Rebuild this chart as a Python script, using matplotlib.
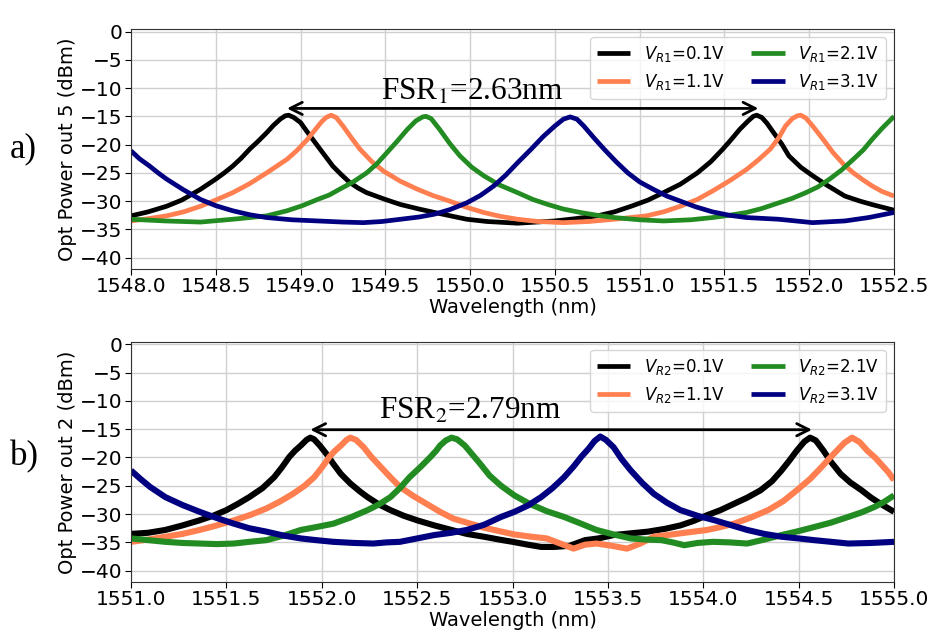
import matplotlib
matplotlib.use("Agg")
import matplotlib.pyplot as plt
from matplotlib.ticker import MultipleLocator, FormatStrFormatter

# ---------------- Panel a) : ring 1, output port 5 ----------------
a_labels = [r"$V_{R1}$=0.1V", r"$V_{R1}$=1.1V", r"$V_{R1}$=2.1V", r"$V_{R1}$=3.1V"]

a_v01_wl = [1548.00, 1548.10, 1548.21, 1548.30, 1548.41, 1548.50, 1548.55, 1548.60, 1548.65,
            1548.70, 1548.75, 1548.80, 1548.84, 1548.88, 1548.91, 1548.93, 1548.96, 1549.00,
            1549.05, 1549.10, 1549.15, 1549.19, 1549.24, 1549.29, 1549.34, 1549.39, 1549.50,
            1549.59, 1549.70, 1549.79, 1549.90, 1549.98, 1550.10, 1550.28, 1550.50, 1550.62,
            1550.75, 1550.85, 1550.95, 1551.05, 1551.14, 1551.24, 1551.34, 1551.42, 1551.49,
            1551.54, 1551.59, 1551.64, 1551.67, 1551.69, 1551.72, 1551.75, 1551.79, 1551.84,
            1551.88, 1551.95, 1552.02, 1552.10, 1552.21, 1552.30, 1552.37, 1552.50]
a_v01_pw = [-32.6, -31.9, -30.9, -29.8, -27.9, -26.1, -25.0, -23.8, -22.4,
            -20.8, -19.4, -17.9, -16.6, -15.5, -14.9, -14.8, -15.2, -16.1,
            -18.2, -20.2, -22.2, -23.8, -25.3, -26.7, -27.7, -28.5, -29.7,
            -30.6, -31.4, -32.0, -32.7, -33.2, -33.6, -33.9, -33.5, -33.1,
            -32.6, -31.9, -30.9, -29.8, -28.5, -27.0, -25.0, -23.0, -20.8,
            -19.1, -17.3, -15.8, -15.0, -14.8, -15.2, -16.2, -17.9, -20.0,
            -22.0, -24.0, -25.5, -27.1, -29.1, -30.0, -30.6, -31.6]

a_v11_wl = [1548.00, 1548.10, 1548.21, 1548.31, 1548.41, 1548.50, 1548.60, 1548.70, 1548.80,
            1548.86, 1548.92, 1548.98, 1549.04, 1549.08, 1549.12, 1549.15, 1549.18, 1549.21,
            1549.25, 1549.30, 1549.35, 1549.42, 1549.49, 1549.59, 1549.69, 1549.78, 1549.88,
            1549.98, 1550.08, 1550.18, 1550.28, 1550.40, 1550.55, 1550.70, 1550.85, 1551.04,
            1551.14, 1551.24, 1551.34, 1551.43, 1551.53, 1551.63, 1551.70, 1551.77, 1551.82,
            1551.86, 1551.90, 1551.93, 1551.95, 1551.98, 1552.02, 1552.08, 1552.14, 1552.20,
            1552.26, 1552.32, 1552.37, 1552.43, 1552.50]
a_v11_pw = [-33.5, -33.1, -32.6, -31.9, -30.9, -29.8, -28.5, -26.9, -25.0,
            -23.8, -22.6, -21.0, -19.1, -17.6, -16.1, -15.2, -14.8, -15.2,
            -16.7, -18.8, -20.8, -23.0, -24.7, -26.5, -27.9, -29.0, -30.0,
            -31.1, -32.0, -32.7, -33.2, -33.6, -33.8, -33.6, -33.2, -32.6,
            -31.9, -30.9, -29.7, -28.2, -26.4, -24.4, -22.7, -20.8, -18.8,
            -16.7, -15.4, -14.9, -14.8, -15.3, -16.7, -19.0, -21.4, -23.4,
            -25.0, -26.3, -27.3, -28.3, -29.1]

a_v21_wl = [1548.00, 1548.20, 1548.41, 1548.60, 1548.80, 1548.92, 1549.01, 1549.10, 1549.17,
            1549.23, 1549.31, 1549.39, 1549.45, 1549.51, 1549.57, 1549.63, 1549.68, 1549.72,
            1549.74, 1549.77, 1549.82, 1549.88, 1549.94, 1550.01, 1550.08, 1550.17, 1550.28,
            1550.37, 1550.46, 1550.55, 1550.65, 1550.75, 1550.85, 1551.00, 1551.14, 1551.30,
            1551.43, 1551.53, 1551.63, 1551.72, 1551.82, 1551.90, 1551.98, 1552.05, 1552.12,
            1552.19, 1552.26, 1552.32, 1552.37, 1552.43, 1552.50]
a_v21_pw = [-33.2, -33.5, -33.7, -33.2, -32.6, -31.7, -30.8, -29.7, -28.9,
            -27.9, -26.6, -25.0, -23.4, -21.4, -19.4, -17.3, -15.8, -15.1,
            -15.0, -15.4, -17.3, -19.8, -22.0, -24.0, -25.5, -27.1, -28.5,
            -29.7, -30.6, -31.4, -32.0, -32.5, -32.9, -33.3, -33.5, -33.3,
            -32.9, -32.5, -32.0, -31.3, -30.3, -29.5, -28.5, -27.5, -26.1,
            -24.5, -22.6, -20.9, -19.1, -17.1, -15.0]

a_v31_wl = [1548.00, 1548.05, 1548.11, 1548.16, 1548.21, 1548.31, 1548.41, 1548.50, 1548.60,
            1548.70, 1548.80, 1548.95, 1549.10, 1549.25, 1549.37, 1549.48, 1549.59, 1549.70,
            1549.79, 1549.88, 1549.98, 1550.06, 1550.14, 1550.21, 1550.28, 1550.36, 1550.43,
            1550.50, 1550.55, 1550.59, 1550.63, 1550.67, 1550.73, 1550.79, 1550.86, 1550.93,
            1551.00, 1551.08, 1551.16, 1551.24, 1551.33, 1551.43, 1551.53, 1551.63, 1551.82,
            1552.02, 1552.21, 1552.35, 1552.50]
a_v31_pw = [-21.1, -22.5, -23.8, -25.0, -26.1, -28.0, -29.7, -30.8, -31.7,
            -32.4, -32.9, -33.3, -33.5, -33.7, -33.8, -33.6, -33.2, -32.8,
            -32.3, -31.5, -30.3, -29.0, -27.3, -25.4, -23.2, -20.8, -18.6,
            -16.7, -15.5, -15.1, -15.5, -16.7, -18.8, -20.8, -23.0, -25.0,
            -26.6, -27.9, -29.1, -30.0, -31.0, -31.9, -32.5, -32.9, -33.2,
            -33.8, -33.5, -32.9, -32.0]

# ---------------- Panel b) : ring 2, output port 2 ----------------
b_labels = [r"$V_{R2}$=0.1V", r"$V_{R2}$=1.1V", r"$V_{R2}$=2.1V", r"$V_{R2}$=3.1V"]

b_v01_wl = [1551.00, 1551.09, 1551.18, 1551.27, 1551.36, 1551.43, 1551.50, 1551.56, 1551.62,
            1551.69, 1551.75, 1551.79, 1551.83, 1551.86, 1551.89, 1551.92, 1551.94, 1551.96,
            1551.99, 1552.03, 1552.06, 1552.10, 1552.15, 1552.20, 1552.24, 1552.30, 1552.36,
            1552.43, 1552.50, 1552.59, 1552.68, 1552.76, 1552.85, 1552.93, 1553.00, 1553.08,
            1553.15, 1553.22, 1553.30, 1553.38, 1553.45, 1553.53, 1553.62, 1553.71, 1553.80,
            1553.88, 1553.95, 1554.02, 1554.09, 1554.16, 1554.23, 1554.30, 1554.36, 1554.41,
            1554.45, 1554.49, 1554.53, 1554.56, 1554.59, 1554.63, 1554.67, 1554.72, 1554.77,
            1554.83, 1554.88, 1554.93, 1555.00]
b_v01_pw = [-33.5, -33.3, -32.8, -32.0, -31.1, -30.3, -29.3, -28.2, -27.0,
            -25.4, -23.5, -21.8, -19.9, -18.8, -17.9, -16.9, -16.5, -16.8,
            -17.9, -19.6, -21.1, -22.9, -24.6, -26.0, -27.0, -28.3, -29.3,
            -30.3, -31.1, -32.0, -32.8, -33.5, -34.0, -34.5, -34.9, -35.4,
            -35.8, -35.8, -35.6, -34.6, -34.3, -33.7, -33.4, -33.1, -32.6,
            -32.0, -31.2, -30.2, -29.3, -28.2, -27.1, -25.8, -24.2, -22.3,
            -20.6, -18.8, -17.2, -16.5, -17.0, -18.8, -20.8, -22.9, -24.4,
            -25.8, -27.1, -28.2, -29.6]

b_v11_wl = [1551.00, 1551.09, 1551.18, 1551.27, 1551.36, 1551.45, 1551.54, 1551.63, 1551.71,
            1551.78, 1551.85, 1551.91, 1551.96, 1552.00, 1552.04, 1552.07, 1552.10, 1552.13,
            1552.15, 1552.18, 1552.22, 1552.26, 1552.31, 1552.36, 1552.41, 1552.48, 1552.55,
            1552.62, 1552.69, 1552.77, 1552.85, 1552.93, 1553.01, 1553.10, 1553.18, 1553.25,
            1553.32, 1553.38, 1553.44, 1553.52, 1553.60, 1553.67, 1553.74, 1553.81, 1553.88,
            1553.95, 1554.02, 1554.09, 1554.16, 1554.25, 1554.34, 1554.42, 1554.49, 1554.56,
            1554.62, 1554.66, 1554.70, 1554.74, 1554.78, 1554.82, 1554.86, 1554.90, 1554.93,
            1554.97, 1555.00]
b_v11_pw = [-34.9, -34.5, -34.0, -33.5, -32.8, -32.0, -31.1, -30.1, -29.0,
            -27.8, -26.4, -25.0, -23.5, -21.8, -19.9, -18.8, -17.9, -16.9,
            -16.5, -16.9, -18.2, -19.9, -21.7, -23.5, -25.2, -26.8, -28.2,
            -29.6, -30.8, -31.6, -32.4, -33.0, -33.6, -34.0, -34.3, -35.2,
            -36.1, -35.4, -35.2, -35.6, -36.1, -35.2, -34.0, -33.7, -33.4,
            -33.1, -32.8, -32.3, -31.7, -30.6, -29.3, -27.7, -25.8, -23.8,
            -21.7, -20.2, -18.8, -17.4, -16.5, -17.3, -18.8, -20.0, -21.1,
            -22.6, -24.0]

b_v21_wl = [1551.00, 1551.09, 1551.18, 1551.27, 1551.36, 1551.45, 1551.54, 1551.62, 1551.71,
            1551.80, 1551.89, 1551.97, 1552.06, 1552.15, 1552.24, 1552.30, 1552.36, 1552.41,
            1552.46, 1552.52, 1552.57, 1552.60, 1552.62, 1552.65, 1552.68, 1552.71, 1552.75,
            1552.79, 1552.83, 1552.88, 1552.94, 1553.01, 1553.09, 1553.18, 1553.27, 1553.36,
            1553.44, 1553.53, 1553.62, 1553.70, 1553.78, 1553.84, 1553.90, 1553.97, 1554.05,
            1554.14, 1554.23, 1554.32, 1554.41, 1554.50, 1554.58, 1554.67, 1554.76, 1554.83,
            1554.90, 1554.95, 1555.00]
b_v21_pw = [-34.3, -34.6, -34.9, -35.1, -35.2, -35.3, -35.2, -34.9, -34.6,
            -33.8, -32.8, -32.3, -31.7, -30.6, -29.3, -28.3, -27.0, -25.4,
            -23.5, -21.6, -19.9, -18.8, -17.9, -17.0, -16.5, -16.8, -17.9,
            -19.5, -21.1, -23.2, -25.0, -26.7, -28.2, -29.5, -30.5, -31.7,
            -32.8, -33.6, -34.3, -34.5, -34.6, -35.0, -35.5, -35.1, -34.9,
            -35.0, -35.2, -34.5, -33.7, -33.0, -32.3, -31.5, -30.5, -29.7,
            -28.7, -27.8, -26.7]

b_v31_wl = [1551.00, 1551.05, 1551.10, 1551.18, 1551.27, 1551.36, 1551.45, 1551.54, 1551.62,
            1551.71, 1551.80, 1551.89, 1551.97, 1552.06, 1552.17, 1552.27, 1552.34, 1552.41,
            1552.50, 1552.59, 1552.68, 1552.76, 1552.85, 1552.94, 1553.01, 1553.08, 1553.15,
            1553.21, 1553.27, 1553.32, 1553.36, 1553.40, 1553.43, 1553.46, 1553.49, 1553.53,
            1553.57, 1553.62, 1553.68, 1553.74, 1553.81, 1553.88, 1553.97, 1554.06, 1554.15,
            1554.23, 1554.32, 1554.41, 1554.50, 1554.58, 1554.67, 1554.76, 1554.88, 1555.00]
b_v31_pw = [-22.3, -23.8, -25.2, -27.0, -28.4, -29.6, -30.7, -31.7, -32.5,
            -33.1, -33.8, -34.3, -34.6, -34.9, -35.1, -35.2, -35.0, -34.9,
            -34.3, -33.7, -33.3, -32.8, -31.9, -30.5, -29.6, -28.5, -27.0,
            -25.4, -23.5, -21.6, -19.9, -18.4, -17.1, -16.3, -16.9, -18.2,
            -20.2, -22.3, -24.5, -26.4, -28.0, -29.3, -30.3, -31.1, -32.0,
            -32.8, -33.5, -34.0, -34.3, -34.6, -34.9, -35.2, -35.1, -34.9]

colors = ["black", "coral", "forestgreen", "navy"]

# FSR annotations: arrow endpoints (nm), arrow level (dBm), text anchor (nm, dBm), text
fsr_a_span = (1548.92, 1551.70)
fsr_a_level = -13.6
fsr_a_text_pos = (1550.01, -12.0)
fsr_a_text = r"FSR$_1$=2.63nm"
fsr_b_span = (1551.94, 1554.57)
fsr_b_level = -15.1
fsr_b_text_pos = (1552.78, -13.2)
fsr_b_text = r"FSR$_2$=2.79nm"

plt.rcParams["font.family"] = "DejaVu Sans"
plt.rcParams["mathtext.fontset"] = "dejavusans"

fig = plt.figure(figsize=(9.31, 6.37), dpi=100)
ax_a = fig.add_axes([0.1407, 0.5777, 0.8196, 0.3768])
ax_b = fig.add_axes([0.1407, 0.0863, 0.8196, 0.3773])

panels = [
    (ax_a, [(a_v01_wl, a_v01_pw), (a_v11_wl, a_v11_pw), (a_v21_wl, a_v21_pw), (a_v31_wl, a_v31_pw)],
     a_labels, (1548.0, 1552.5), "Opt Power out 5 (dBm)", 3.4,
     fsr_a_span, fsr_a_level, fsr_a_text_pos, fsr_a_text),
    (ax_b, [(b_v01_wl, b_v01_pw), (b_v11_wl, b_v11_pw), (b_v21_wl, b_v21_pw), (b_v31_wl, b_v31_pw)],
     b_labels, (1551.0, 1555.0), "Opt Power out 2 (dBm)", 4.4,
     fsr_b_span, fsr_b_level, fsr_b_text_pos, fsr_b_text),
]

for ax, series, labels, xlim, ylabel, lw, span, level, tpos, txt in panels:
    for (wl, pw), lab, col in zip(series, labels, colors):
        ax.plot(wl, pw, color=col, lw=lw, label=lab,
                solid_joinstyle="round", solid_capstyle="butt")
    ax.set_xlim(*xlim)
    ax.set_ylim(-42, 0.45)
    ax.xaxis.set_major_locator(MultipleLocator(0.5))
    ax.yaxis.set_major_locator(MultipleLocator(5))
    ax.xaxis.set_major_formatter(FormatStrFormatter("%.1f"))
    ax.grid(True, color="#d0d0d0", lw=1.0)
    ax.set_axisbelow(True)
    ax.tick_params(labelsize=14.5, length=4, pad=2)
    ax.set_xlabel("Wavelength (nm)", fontsize=14, labelpad=1)
    ax.set_ylabel(ylabel, fontsize=14, labelpad=2)
    for s in ax.spines.values():
        s.set_color("#333333")
    leg = ax.legend(loc="upper right", ncol=2, fontsize=12, handlelength=2.0,
                    columnspacing=1.6, borderaxespad=0.5)
    for h in leg.get_lines():
        h.set_linewidth(3.4)
    ax.annotate("", xy=(span[0], level), xytext=(span[1], level),
                arrowprops=dict(arrowstyle="<->", color="black", lw=2.0, mutation_scale=22,
                                shrinkA=0, shrinkB=0))
    ax.text(tpos[0], tpos[1], txt, ha="center", va="baseline", fontsize=22.5,
            family="Liberation Serif", math_fontfamily="stix")

fig.text(0.011, 0.753, "a)", fontsize=25, family="Liberation Serif", va="baseline")
fig.text(0.011, 0.270, "b)", fontsize=25, family="Liberation Serif", va="baseline")

fig.savefig("out.png", dpi=100)
